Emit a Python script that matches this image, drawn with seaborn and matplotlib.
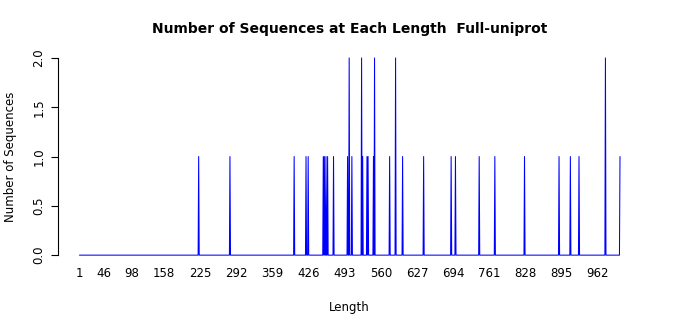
import numpy as np
import pandas as pd
import matplotlib
matplotlib.use("Agg")
import matplotlib.pyplot as plt
import seaborn as sns

# Sequence lengths that occur, and how many sequences have each length
seq_lengths = [222, 280, 399, 421, 425, 453, 455, 458, 461, 472, 498, 501, 506,
               524, 526, 534, 536, 546, 548, 576, 587, 600, 639, 690, 698, 742,
               771, 826, 890, 911, 927, 976, 1003]
seq_counts = [1, 1, 1, 1, 1, 1, 1, 1, 1, 1, 1, 2, 1,
              2, 1, 1, 1, 1, 2, 1, 2, 1, 1, 1, 1, 1,
              1, 1, 1, 1, 1, 2, 1]
min_length = 1
max_length = 1003
x_tick_labels = [1, 46, 98, 158, 225, 292, 359, 426, 493, 560, 627, 694, 761, 828, 895, 962]
y_ticks = [0.0, 0.5, 1.0, 1.5, 2.0]

# full table of counts for every length (lengths not seen have zero sequences)
all_lengths = np.arange(min_length, max_length + 1)
counts = pd.Series(0, index=all_lengths, dtype=float)
counts.loc[seq_lengths] = seq_counts
df = pd.DataFrame({"Length": all_lengths, "Count": counts.values})

sns.set_style("white")
plt.rcParams["font.family"] = ["DejaVu Sans"]
plt.rcParams["text.color"] = "black"
plt.rcParams["axes.labelcolor"] = "black"
plt.rcParams["xtick.color"] = "black"
plt.rcParams["ytick.color"] = "black"

fig = plt.figure(figsize=(7, 3.15), dpi=100)
ax = fig.add_axes([0.0826, 0.165, 0.834, 0.676])

sns.lineplot(data=df, x="Length", y="Count", color="#0000FF", linewidth=0.75,
             estimator=None, ax=ax)

span = max_length - min_length
ax.set_xlim(min_length - 0.04 * span, max_length + 0.04 * span)
ax.set_ylim(-0.08, 2.08)

ax.set_xticks(x_tick_labels)
ax.set_xticklabels([str(v) for v in x_tick_labels], fontsize=8.5, color="black")
ax.set_yticks(y_ticks)
ax.set_yticklabels([f"{v:.1f}" for v in y_ticks], fontsize=8.5, rotation=90,
                   va="center", color="black")

ax.tick_params(axis="x", length=0, pad=3)
ax.tick_params(axis="y", length=5, width=0.8, color="black", pad=4, left=True)

for s in ["top", "right", "bottom"]:
    ax.spines[s].set_visible(False)
ax.spines["left"].set_bounds(0, 2)
ax.spines["left"].set_color("black")
ax.spines["left"].set_linewidth(0.8)

ax.set_xlabel("Length", fontsize=8.5, labelpad=15, color="black")
ax.set_ylabel("Number of Sequences", fontsize=8.5, labelpad=11, color="black")
ax.set_title("Number of Sequences at Each Length  Full-uniprot", fontsize=10,
             fontweight="bold", pad=12, color="black")

fig.savefig("out.png", dpi=100)
